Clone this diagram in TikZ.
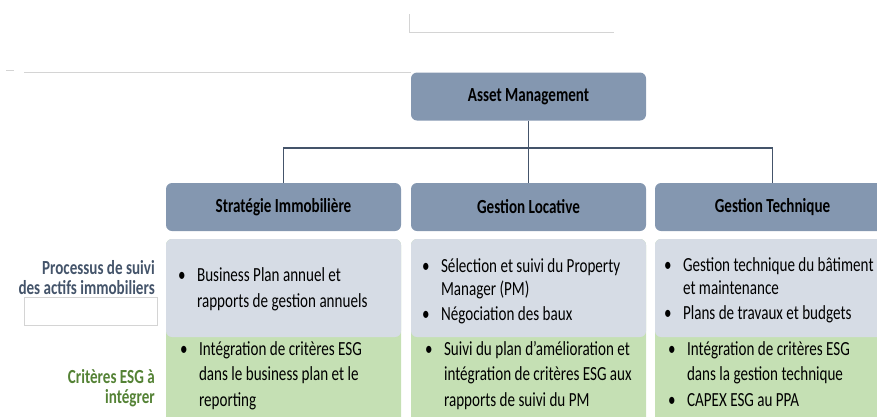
\documentclass[tikz,border=0pt]{standalone}
\usepackage{fontspec}
\setmainfont{Carlito}
\usepackage{tikz}

\definecolor{hdrfill}{HTML}{8497B0}
\definecolor{procfill}{HTML}{D6DCE5}
\definecolor{esgfill}{HTML}{C5E0B4}
\definecolor{proctext}{HTML}{44546A}
\definecolor{esgtext}{HTML}{548235}
\definecolor{linkcol}{HTML}{44546A}
\definecolor{faint}{HTML}{D4D4D4}

% narrow setting of the text, as in the original
\newcommand{\sq}[1]{\scalebox{0.755}[1]{#1}}
\newcommand{\blist}[1]{\sq{\begin{tabular}[t]{@{}l@{\hspace{15pt}}l@{}}#1\end{tabular}}}
\newcommand{\rlabel}[1]{\sq{\begin{tabular}[t]{@{}r@{}}#1\end{tabular}}}

\begin{document}
\begin{tikzpicture}[x=1pt,y=-1pt]
\tikzstyle{every node}+=[inner sep=0pt, font=\fontsize{20}{23.5}\selectfont]
\tikzstyle{hdr}=[fill=hdrfill, rounded corners=6pt, minimum width=235pt, minimum height=48pt, font=\fontsize{20}{23.5}\selectfont\bfseries]
\tikzstyle{items}=[anchor=base west]
\tikzstyle{wide}=[font=\fontsize{20}{25.5}\selectfont]
\tikzstyle{side}=[anchor=base east, font=\fontsize{20}{20.5}\selectfont\bfseries]
\useasboundingbox (0,0) rectangle (877,416);
% faint traces
\draw [faint] (409,14) -- (409,32) -- (614,32);
\draw [faint] (6,70) -- (14,70);
\draw [faint] (24,72) -- (411,72);
\draw [faint] (24,297) rectangle (157,325);
% boxes under the headers
\foreach \xl in {166,411,655} {
  \fill [esgfill, rounded corners=6pt] (\xl,239) rectangle ++(235,186);
  \fill [procfill, rounded corners=6pt] (\xl,239) rectangle ++(235,98);
}
% headers
\node [hdr] (am) at (528.5,96.5) {\sq{Asset Management}};
\node [hdr] (strat) at (283.5,207) {\sq{Stratégie Immobilière}};
\node [hdr] (loc) at (528.5,207) {\sq{Gestion Locative}};
\node [hdr] (tech) at (772.5,207) {\sq{Gestion Technique}};
\coordinate (bus) at (528.5,148);
\draw [linkcol, line width=1.1pt] (am.south) -- (bus);
\draw [linkcol, line width=1.1pt] (strat.north) |- (bus) -| (tech.north);
\draw [linkcol, line width=1.1pt] (bus) -- (loc.north);
% row labels
\node [side, text=proctext] (proc) at (155,274) {\rlabel{Processus de suivi\\des actifs immobiliers}};
\node [side, text=esgtext] (esg) at (155,383) {\rlabel{Critères ESG à\\intégrer}};
% processus
\node [items, font=\fontsize{20}{26}\selectfont] (stratp) at (178,281) {\blist{\textbullet & Business Plan annuel et\\ & rapports de gestion annuels}};
\node [items] (locp) at (422,272) {\blist{\textbullet & Sélection et suivi du Property\\ & Manager (PM)\\[1.5pt] \textbullet & Négociation des baux}};
\node [items] (techp) at (664,271) {\blist{\textbullet & Gestion technique du bâtiment\\ & et maintenance\\[1.5pt] \textbullet & Plans de travaux et budgets}};
% criteres ESG
\node [items, wide] (strate) at (180,355) {\blist{\textbullet & Intégration de critères ESG\\ & dans le business plan et le\\ & reporting}};
\node [items, wide] (loce) at (425,355) {\blist{\textbullet & Suivi du plan d’amélioration et\\ & intégration de critères ESG aux\\ & rapports de suivi du PM}};
\node [items, wide] (teche) at (668,355) {\blist{\textbullet & Intégration de critères ESG\\ & dans la gestion technique\\ \textbullet & CAPEX ESG au PPA}};
\end{tikzpicture}
\end{document}
